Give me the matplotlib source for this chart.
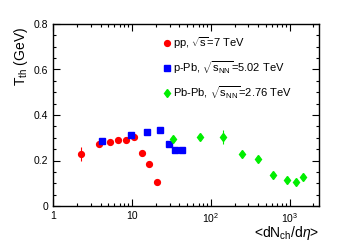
import matplotlib
matplotlib.use("Agg")
import matplotlib.pyplot as plt
from matplotlib.ticker import LogLocator, MultipleLocator, NullFormatter

plt.rcParams['font.family'] = ['Liberation Sans', 'DejaVu Sans']
plt.rcParams['mathtext.fontset'] = 'custom'
plt.rcParams['mathtext.rm'] = 'Liberation Sans'
plt.rcParams['mathtext.it'] = 'Liberation Sans:italic'
plt.rcParams['mathtext.sf'] = 'Liberation Sans'

# pp, sqrt(s)=7 TeV
pp_x = [2.26, 3.86, 5.3, 6.6, 8.4, 10.7, 13.3, 16.3, 20.9]
pp_y = [0.230, 0.272, 0.280, 0.289, 0.291, 0.305, 0.233, 0.186, 0.105]
pp_err = [0.030, 0.005, 0.004, 0.004, 0.004, 0.004, 0.004, 0.004, 0.004]

# p-Pb, sqrt(sNN)=5.02 TeV
ppb_x = [4.13, 9.7, 15.6, 22.6, 29.7, 35.0, 43.3]
ppb_y = [0.284, 0.313, 0.324, 0.333, 0.274, 0.245, 0.246]

# Pb-Pb, sqrt(sNN)=2.76 TeV
pbpb_x = [33.5, 73, 142, 247, 402, 622, 916, 1216, 1490]
pbpb_y = [0.296, 0.303, 0.303, 0.227, 0.207, 0.136, 0.116, 0.107, 0.127]
pbpb_err = [0.010, 0.010, 0.030, 0.010, 0.010, 0.010, 0.010, 0.010, 0.010]

labels = [r'pp, $\sqrt{\rm s}$=7 TeV',
          r'p-Pb, $\sqrt{{\rm s}_{\rm NN}}$=5.02 TeV',
          r'Pb-Pb, $\sqrt{{\rm s}_{\rm NN}}$=2.76 TeV']

fig = plt.figure(figsize=(3.55, 2.42), dpi=100)
ax = fig.add_axes([53/355, 1 - 206/242, (319 - 53)/355, (206 - 24)/242])

ax.errorbar(pp_x, pp_y, yerr=pp_err, fmt='none', ecolor='#ff0000',
            elinewidth=0.8, capsize=0)
ax.plot(pp_x, pp_y, 'o', color='#ff0000', ms=4.2, label=labels[0])
ax.plot(ppb_x, ppb_y, 's', color='#0000ff', ms=4.2, label=labels[1])
ax.errorbar(pbpb_x, pbpb_y, yerr=pbpb_err, fmt='none', ecolor='#00ee00',
            elinewidth=0.8, capsize=0)
ax.plot(pbpb_x, pbpb_y, 'd', color='#00ee00', ms=4.5, label=labels[2])

ax.set_xscale('log')
ax.set_xlim(1, 2350)
ax.set_ylim(0, 0.8)

ax.yaxis.set_major_locator(MultipleLocator(0.2))
ax.yaxis.set_minor_locator(MultipleLocator(0.05))
ax.yaxis.set_major_formatter(matplotlib.ticker.FuncFormatter(
    lambda v, p: '0' if abs(v) < 1e-9 else f'{v:.1f}'))
ax.xaxis.set_major_locator(LogLocator(base=10, numticks=10))
ax.xaxis.set_minor_locator(LogLocator(base=10, subs=range(2, 10), numticks=20))
ax.xaxis.set_minor_formatter(NullFormatter())
ax.xaxis.set_major_formatter(matplotlib.ticker.FuncFormatter(
    lambda v, p: {1: '1', 10: '10', 100: r'$10^2$', 1000: r'$10^3$'}.get(int(round(v)), '')))

ax.tick_params(which='both', direction='in', top=True, right=True, labelsize=7.5, width=0.8)
ax.tick_params(which='major', length=5)
ax.tick_params(which='minor', length=2.5)
for s in ax.spines.values():
    s.set_linewidth(1.0)

ax.set_ylabel(r'T$_{\rm th}$ (GeV)', fontsize=10)
ax.yaxis.set_label_coords(-0.086, 0.82)
ax.set_xlabel(r'<dN$_{\rm ch}$/d$\eta$>', fontsize=10, ha='right')
ax.xaxis.set_label_coords(1.0, -0.1)

ax.legend(loc='upper left', bbox_to_anchor=(0.385, 0.97), frameon=False,
          fontsize=8, handletextpad=0.1, handlelength=1.0, labelspacing=0.75,
          borderpad=0)

fig.savefig('out.png', dpi=100)
